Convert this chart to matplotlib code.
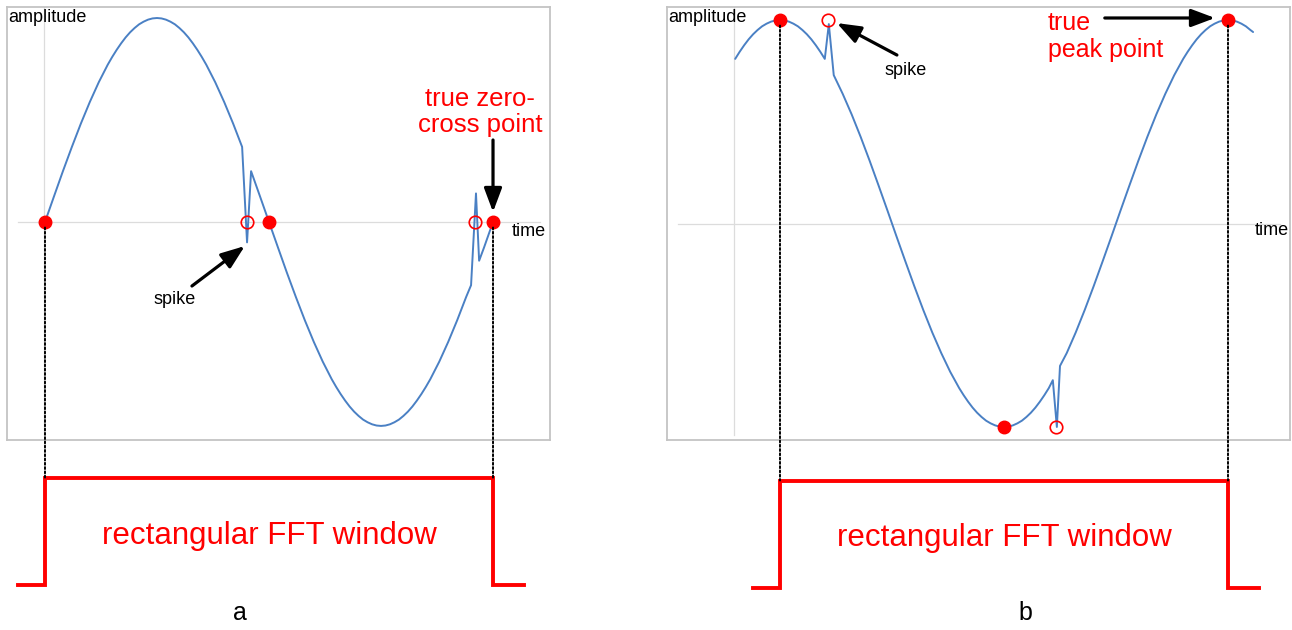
""" Spikes vs. true zero-cross / peak points inside a rectangular FFT window """

import matplotlib.pyplot as plt
from matplotlib.patches import ConnectionPatch

plt.rcParams['font.family'] = ['Liberation Sans', 'DejaVu Sans']

# time is in window lengths (0 = window start, 1 = window end),
# amplitude is normalised to the sine peak; sampled finer round the bends

# a: window starts and ends on a zero crossing
a_time = [0.00, 0.02, 0.04, 0.06, 0.08, 0.10, 0.12, 0.14, 0.15, 0.16,
          0.17, 0.18, 0.19, 0.20, 0.21, 0.22, 0.23, 0.24, 0.25, 0.26,
          0.27, 0.28, 0.29, 0.30, 0.31, 0.32, 0.33, 0.34, 0.35, 0.36,
          0.38, 0.40, 0.42, 0.44, 0.451, 0.46, 0.48, 0.50, 0.52, 0.54,
          0.56, 0.58, 0.60, 0.62, 0.64, 0.65, 0.66, 0.67, 0.68, 0.69,
          0.70, 0.71, 0.72, 0.73, 0.74, 0.75, 0.76, 0.77, 0.78, 0.79,
          0.80, 0.81, 0.82, 0.83, 0.84, 0.85, 0.86, 0.88, 0.90, 0.92,
          0.94, 0.951, 0.962, 0.969, 0.98, 1.00]
a_amp = [0.000, 0.125, 0.249, 0.368, 0.482, 0.588, 0.685, 0.771, 0.809, 0.844,
         0.876, 0.905, 0.930, 0.951, 0.969, 0.982, 0.992, 0.998, 1.000, 0.998,
         0.992, 0.982, 0.969, 0.951, 0.930, 0.905, 0.876, 0.844, 0.809, 0.771,
         0.685, 0.588, 0.482, 0.368, -0.100, 0.249, 0.125, 0.000, -0.125, -0.249,
         -0.368, -0.482, -0.588, -0.685, -0.771, -0.809, -0.844, -0.876, -0.905, -0.930,
         -0.951, -0.969, -0.982, -0.992, -0.998, -1.000, -0.998, -0.992, -0.982, -0.969,
         -0.951, -0.930, -0.905, -0.876, -0.844, -0.809, -0.771, -0.685, -0.588, -0.482,
         -0.368, -0.310, 0.140, -0.190, -0.125, 0.000]
a_true_time = [0.0, 0.5, 1.0]
a_true_amp = [0.0, 0.0, 0.0]
a_false_time = [0.451, 0.960]
a_false_amp = [0.0, 0.0]

# b: window starts and ends on a peak
b_time = [-0.10, -0.09, -0.08, -0.07, -0.06, -0.05, -0.04, -0.03, -0.02, -0.01,
          0.00, 0.01, 0.02, 0.03, 0.04, 0.05, 0.06, 0.07, 0.08, 0.09,
          0.10, 0.109, 0.12, 0.14, 0.16, 0.18, 0.20, 0.22, 0.24, 0.26,
          0.28, 0.30, 0.32, 0.34, 0.36, 0.38, 0.40, 0.41, 0.42, 0.43,
          0.44, 0.45, 0.46, 0.47, 0.48, 0.49, 0.50, 0.51, 0.52, 0.53,
          0.54, 0.55, 0.56, 0.57, 0.58, 0.59, 0.60, 0.609, 0.618, 0.625,
          0.64, 0.66, 0.68, 0.70, 0.72, 0.74, 0.76, 0.78, 0.80, 0.82,
          0.84, 0.86, 0.88, 0.90, 0.91, 0.92, 0.93, 0.94, 0.95, 0.96,
          0.97, 0.98, 0.99, 1.00, 1.01, 1.02, 1.03, 1.04, 1.05, 1.056]
b_amp = [0.809, 0.844, 0.876, 0.905, 0.930, 0.951, 0.969, 0.982, 0.992, 0.998,
         1.000, 0.998, 0.992, 0.982, 0.969, 0.951, 0.930, 0.905, 0.876, 0.844,
         0.809, 0.980, 0.729, 0.637, 0.536, 0.426, 0.309, 0.187, 0.063, -0.063,
         -0.187, -0.309, -0.426, -0.536, -0.637, -0.729, -0.809, -0.844, -0.876, -0.905,
         -0.930, -0.951, -0.969, -0.982, -0.992, -0.998, -1.000, -0.998, -0.992, -0.982,
         -0.969, -0.951, -0.930, -0.905, -0.876, -0.844, -0.809, -0.770, -1.000, -0.700,
         -0.637, -0.536, -0.426, -0.309, -0.187, -0.063, 0.063, 0.187, 0.309, 0.426,
         0.536, 0.637, 0.729, 0.809, 0.844, 0.876, 0.905, 0.930, 0.951, 0.969,
         0.982, 0.992, 0.998, 1.000, 0.998, 0.992, 0.982, 0.969, 0.951, 0.941]
b_true_time = [0.0, 0.5, 1.0]
b_true_amp = [1.0, -1.0, 1.0]
b_false_time = [0.107, 0.616]
b_false_amp = [1.0, -1.0]

# rectangular window (same for both panels)
win_time = [-0.06, 0.0, 0.0, 1.0, 1.0, 1.07]
win_level = [0, 0, 1, 1, 0, 0]

W, H = 1292, 630
BLUE = '#4a80c4'
RED = '#ff0000'
ARROW = dict(arrowstyle='-|>,head_length=0.8,head_width=0.3',
             mutation_scale=18, color='black', lw=2.3,
             shrinkA=0, shrinkB=0)


def px_box(x0, y0, x1, y1):
    """ Figure-fraction rectangle from pixel corners """
    return [x0 / W, 1 - y1 / H, (x1 - x0) / W, (y1 - y0) / H]


def wave_panel(fig, box, xlim, ylim, time, amp, true_t, true_a,
               false_t, false_a, hline, vline):
    """ Signal box with axis lines and the marked points """
    ax = fig.add_axes(px_box(*box))
    ax.set_xlim(xlim)
    ax.set_ylim(ylim)
    ax.set_xticks([])
    ax.set_yticks([])
    for s in ax.spines.values():
        s.set_color('#c4c4c4')
        s.set_linewidth(1.3)
    ax.plot(hline, [0, 0], color='#dcdcdc', lw=0.9, zorder=1)
    ax.plot([vline[0], vline[0]], vline[1:], color='#dcdcdc', lw=0.9,
            zorder=1)
    ax.plot(time, amp, color=BLUE, lw=1.4, zorder=2,
            solid_joinstyle='round', solid_capstyle='round')
    ax.plot(true_t, true_a, 'o', color=RED, ms=9, zorder=4)
    ax.plot(false_t, false_a, 'o', mfc='none', mec=RED, mew=1.2, ms=9,
            zorder=4)
    ax.text(0.002, 0.995, 'amplitude', transform=ax.transAxes,
            ha='left', va='top', fontsize=13)
    return ax


def window_panel(fig, box, xlim):
    """ Rectangular FFT window drawn under a signal box """
    ax = fig.add_axes(px_box(*box))
    ax.set_xlim(xlim)
    ax.set_ylim(0, 1)
    ax.axis('off')
    ax.plot(win_time, win_level, color=RED, lw=2.8, clip_on=False,
            solid_joinstyle='miter')
    ax.text(0.5, 0.46, 'rectangular FFT window', color=RED,
            fontsize=22.5, ha='center', va='center')
    return ax


def drop_line(fig, ax_top, ax_bot, t, a):
    """ Dotted guide from a marked point down to the window edge """
    con = ConnectionPatch(xyA=(t, a), coordsA='data', axesA=ax_top,
                          xyB=(t, 1), coordsB='data', axesB=ax_bot,
                          color='black', lw=1.4, linestyle=(0, (1, 1.2)),
                          shrinkA=4, shrinkB=0)
    fig.add_artist(con)


def main():
    """ Main """
    fig = plt.figure(figsize=(W / 100, H / 100), dpi=100)

    # panel a
    xa = (-0.0848, 1.1272)
    ax_a = wave_panel(fig, (7, 7, 550, 440), xa, (-1.069, 1.054),
                      a_time, a_amp, a_true_time, a_true_amp,
                      a_false_time, a_false_amp,
                      hline=[-0.06, 1.105], vline=[-0.002, -1.04, 1.06])
    win_a = window_panel(fig, (7, 478, 550, 585), xa)
    for t, a in [(a_true_time[0], a_true_amp[0]),
                 (a_true_time[-1], a_true_amp[-1])]:
        drop_line(fig, ax_a, win_a, t, a)
    ax_a.annotate('', xy=(0.446, -0.118), xytext=(0.328, -0.314),
                  arrowprops=ARROW)
    ax_a.text(0.29, -0.382, 'spike', fontsize=13, ha='center', va='center')
    ax_a.annotate('', xy=(1.0, 0.049), xytext=(1.0, 0.402),
                  arrowprops=ARROW, annotation_clip=False)
    ax_a.text(0.971, 0.539, 'true zero-\ncross point', color=RED,
              fontsize=18.5, ha='center', va='center', linespacing=1.15)
    ax_a.text(1.042, -0.049, 'time', fontsize=13, ha='left', va='center')

    # panel b
    xb = (-0.2522, 1.1384)
    ax_b = wave_panel(fig, (667, 7, 1290, 440), xb, (-1.064, 1.064),
                      b_time, b_amp, b_true_time, b_true_amp,
                      b_false_time, b_false_amp,
                      hline=[-0.228, 1.116], vline=[-0.1027, -1.04, 1.07])
    win_b = window_panel(fig, (667, 480.5, 1290, 587.5), xb)
    for t, a in [(b_true_time[0], b_true_amp[0]),
                 (b_true_time[-1], b_true_amp[-1])]:
        drop_line(fig, ax_b, win_b, t, a)
    ax_b.annotate('', xy=(0.127, 0.985), xytext=(0.261, 0.828),
                  arrowprops=ARROW)
    ax_b.text(0.281, 0.754, 'spike', fontsize=13, ha='center', va='center')
    ax_b.annotate('', xy=(0.971, 1.01), xytext=(0.725, 1.01),
                  arrowprops=ARROW)
    ax_b.text(0.598, 0.92, 'true\npeak point', color=RED, fontsize=18,
              ha='left', va='center', linespacing=1.15)
    ax_b.text(1.060, -0.032, 'time', fontsize=13, ha='left', va='center')

    fig.text(240 / W, 1 - 613 / H, 'a', fontsize=18, ha='center',
             va='center')
    fig.text(1025 / W, 1 - 613 / H, 'b', fontsize=18, ha='center',
             va='center')

    fig.savefig('out.png', dpi=100)


if __name__ == '__main__':
    main()
